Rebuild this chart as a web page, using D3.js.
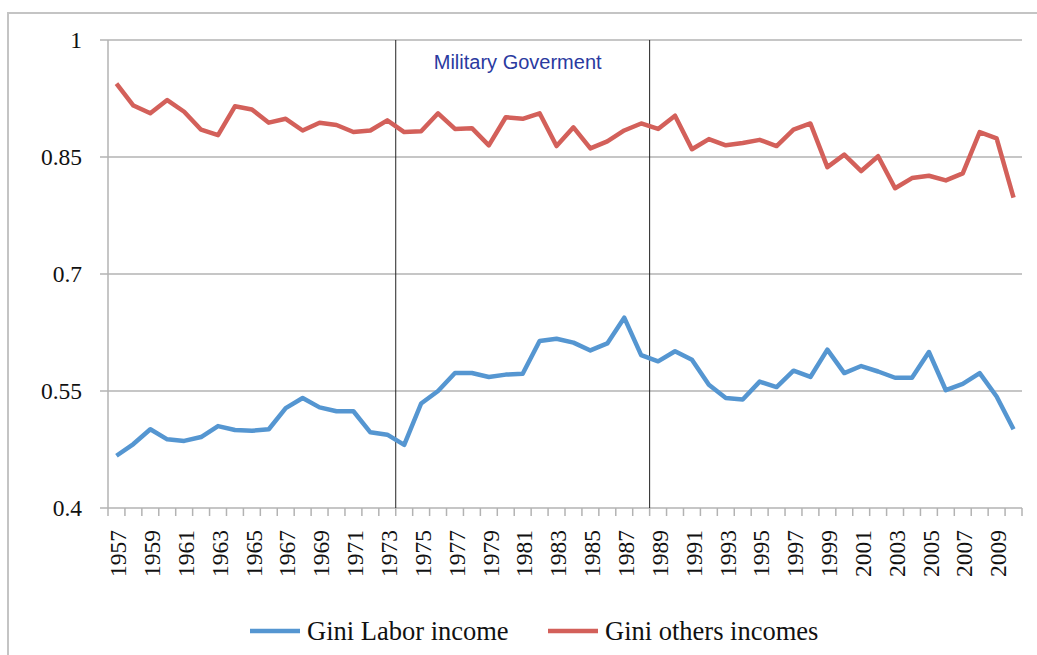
<html>
<head>
<meta charset="UTF-8">
<title>Gini</title>
<script src="https://d3js.org/d3.v7.min.js"></script>
<style>
html,body{margin:0;padding:0;background:#fff;}
.tick-label{font-family:"Liberation Serif","Times New Roman",serif;fill:#111;}
</style>
</head>
<body>
<div id="container"></div>
<script>
const years = d3.range(1957, 2011)
const labor = [0.467,0.482,0.501,0.488,0.486,0.491,0.505,0.500,0.499,0.501,
               0.528,0.541,0.529,0.524,0.524,0.497,0.494,0.481,0.534,0.550,
               0.573,0.573,0.568,0.571,0.572,0.614,0.617,0.612,0.602,0.611,
               0.644,0.596,0.588,0.601,0.590,0.558,0.541,0.539,0.562,0.555,
               0.576,0.568,0.603,0.573,0.582,0.575,0.567,0.567,0.600,0.551,
               0.559,0.573,0.543,0.501]
const others = [0.944,0.916,0.906,0.923,0.908,0.885,0.878,0.915,0.911,0.894,
                0.899,0.884,0.894,0.891,0.882,0.884,0.897,0.882,0.883,0.906,
                0.886,0.887,0.865,0.901,0.899,0.906,0.864,0.888,0.861,0.870,
                0.884,0.893,0.886,0.903,0.860,0.873,0.865,0.868,0.872,0.864,
                0.885,0.893,0.837,0.853,0.832,0.851,0.810,0.823,0.826,0.820,
                0.829,0.882,0.874,0.798]
const yTicks = [0.4, 0.55, 0.7, 0.85, 1]
const periodStart = 1973, periodEnd = 1989
const seriesNames = ["Gini Labor income", "Gini others incomes"]
const colors = ["#5596d1", "#d3605a"]

const W = 1037, H = 655
const marge = {top: 40, right: 15, bottom: 147, left: 108}
const width = 1022 - marge.left, height = H - marge.top - marge.bottom

const svg = d3.select("#container").append("svg")
    .attr("width", W).attr("height", H)

// outer frame
svg.append("rect")
    .attr("x", 8).attr("y", 13).attr("width", W + 20).attr("height", H + 20)
    .attr("fill", "none").attr("stroke", "#c4c4c4").attr("stroke-width", 2)

const g = svg.append("g").attr("transform", "translate(" + marge.left + "," + marge.top + ")")

const xScale = d3.scaleBand().domain(years).range([0, width])
const yScale = d3.scaleLinear().domain([0.4, 1]).range([height, 0])
const xc = d => xScale(d) + xScale.bandwidth() / 2

// gridlines
g.selectAll(".grid").data(yTicks).enter().append("line")
    .attr("x1", -8).attr("x2", width)
    .attr("y1", d => yScale(d)).attr("y2", d => yScale(d))
    .attr("stroke", "#b3b3b3").attr("stroke-width", 1.5)

// y axis line
g.append("line").attr("x1", 0).attr("x2", 0).attr("y1", 0).attr("y2", height)
    .attr("stroke", "#b3b3b3").attr("stroke-width", 1.5)

g.selectAll(".ylab").data(yTicks).enter().append("text")
    .attr("class", "tick-label")
    .attr("x", -26).attr("y", d => yScale(d))
    .attr("dy", "0.35em").attr("text-anchor", "end")
    .attr("font-size", 23.5)
    .text(d => d === 1 ? "1" : d3.format(".2~f")(d))

// x ticks at band boundaries
const bounds = years.map(y => xScale(y)).concat([width])
g.selectAll(".xt").data(bounds).enter().append("line")
    .attr("x1", d => d).attr("x2", d => d)
    .attr("y1", height).attr("y2", height + 8)
    .attr("stroke", "#b3b3b3").attr("stroke-width", 1.5)

g.selectAll(".xlab").data(years.filter(y => (y - 1957) % 2 === 0)).enter().append("text")
    .attr("class", "tick-label")
    .attr("font-size", 23.5)
    .attr("text-anchor", "end")
    .attr("transform", d => "translate(" + (xc(d) + 1.5) + "," + (height + 22) + ") rotate(-90)")
    .attr("dy", "0.35em")
    .text(d => d)

// period markers
const periodX = [xScale(periodStart) + xScale.bandwidth(), xScale(periodEnd)]
g.selectAll(".period").data(periodX).enter().append("line")
    .attr("x1", d => d).attr("x2", d => d)
    .attr("y1", 0).attr("y2", height)
    .attr("stroke", "#222").attr("stroke-width", 1)

g.append("text")
    .attr("x", (periodX[0] + periodX[1]) / 2 - 5).attr("y", 29)
    .attr("text-anchor", "middle")
    .attr("font-family", "Liberation Sans, Arial, sans-serif")
    .attr("font-size", 20).attr("fill", "#2a3aa0")
    .text("Military Goverment")

const line = d3.line().x((d, i) => xc(years[i])).y(d => yScale(d))

;[labor, others].forEach((s, i) => {
    g.append("path").datum(s)
        .attr("fill", "none").attr("stroke", colors[i])
        .attr("stroke-width", 4.5).attr("stroke-linejoin", "round")
        .attr("d", line)
})

// legend
const legendX = [250, 548]
seriesNames.forEach((n, i) => {
    svg.append("line")
        .attr("x1", legendX[i]).attr("x2", legendX[i] + 50)
        .attr("y1", 631).attr("y2", 631)
        .attr("stroke", colors[i]).attr("stroke-width", 4.5)
    svg.append("text").attr("class", "tick-label")
        .attr("x", legendX[i] + 57).attr("y", 631).attr("dy", "0.35em")
        .attr("font-size", 26.5)
        .text(n)
})
</script>
</body>
</html>
